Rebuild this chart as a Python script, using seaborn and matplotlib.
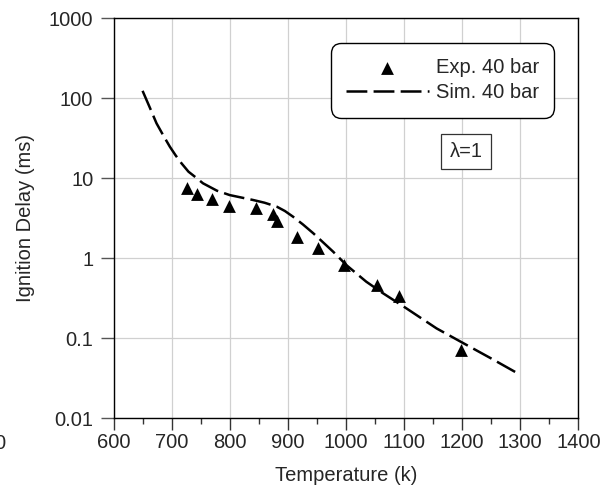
import matplotlib
matplotlib.use("Agg")
import matplotlib.pyplot as plt
from matplotlib.ticker import FixedLocator, FixedFormatter, MultipleLocator, NullLocator
import numpy as np
import pandas as pd
import seaborn as sns

# Experimental ignition delays at 40 bar
exp_temperature = [726, 744, 769, 798, 845, 875, 881, 915, 952, 997, 1053, 1091, 1198]
exp_delay = [7.6, 6.3, 5.5, 4.5, 4.3, 3.6, 2.9, 1.86, 1.36, 0.82, 0.46, 0.34, 0.071]

# Simulated ignition delays at 40 bar
sim_temperature = [650, 662, 674, 686, 697, 707, 717, 729, 742, 754, 778, 800, 820,
                   840, 860, 881, 895, 909, 926, 944, 960, 978, 1001, 1035, 1064,
                   1104, 1156, 1202, 1250, 1300]
sim_delay = [124, 78, 48.7, 34, 24.8, 19.3, 15.4, 12.1, 10.2, 8.66, 7.0, 6.17, 5.75,
             5.36, 4.95, 4.42, 3.9, 3.31, 2.65, 2.05, 1.6, 1.21, 0.82, 0.51, 0.365,
             0.237, 0.133, 0.087, 0.056, 0.035]

x_ticks = [600, 700, 800, 900, 1000, 1100, 1200, 1300, 1400]
y_ticks = [0.01, 0.1, 1, 10, 100, 1000]
y_tick_labels = ["0.01", "0.1", "1", "10", "100", "1000"]

exp_df = pd.DataFrame({"T": exp_temperature, "tau": exp_delay})
sim_df = pd.DataFrame({"T": sim_temperature, "tau": sim_delay})

sns.set_style("ticks")
plt.rcParams["font.family"] = ["Liberation Sans", "DejaVu Sans"]
plt.rcParams["lines.scale_dashes"] = False
FS = 14.5

fig = plt.figure(figsize=(6.08, 4.93), dpi=100)
ax = fig.add_axes([0.1867, 0.1515, 0.7645, 0.8114])

sns.lineplot(data=sim_df, x="T", y="tau", ax=ax, color="black", linewidth=1.8,
             dashes=False, label="Sim. 40 bar", zorder=3)
ax.lines[0].set_dashes((15, 4.5))
sns.scatterplot(data=exp_df, x="T", y="tau", ax=ax, marker="^", s=85,
                color="black", linewidth=0, label="Exp. 40 bar", zorder=4)

ax.set_yscale("log")
ax.set_xlim(600, 1400)
ax.set_ylim(0.01, 1000)

ax.xaxis.set_major_locator(FixedLocator(x_ticks))
ax.xaxis.set_minor_locator(MultipleLocator(50))
ax.yaxis.set_major_locator(FixedLocator(y_ticks))
ax.yaxis.set_major_formatter(FixedFormatter(y_tick_labels))
ax.yaxis.set_minor_locator(NullLocator())

ax.grid(True, which="major", color="#d0d0d0", linewidth=0.9, zorder=0)
ax.set_axisbelow(True)

for side in ["left", "right", "top", "bottom"]:
    ax.spines[side].set_visible(True)
    ax.spines[side].set_color("black")
    ax.spines[side].set_linewidth(1.0)

ax.tick_params(axis="x", which="major", direction="out", length=8.5, width=1.0,
               color="#333333", labelsize=FS, pad=2)
ax.tick_params(axis="x", which="minor", direction="out", length=4.5, width=1.0,
               color="#333333")
ax.tick_params(axis="y", which="major", direction="out", length=9.5, width=1.0,
               color="#555555", labelsize=FS, pad=5)

ax.set_xlabel("Temperature (k)", fontsize=FS)
ax.set_ylabel("Ignition Delay (ms)", fontsize=FS)
ax.xaxis.set_label_coords(0.5, -0.118)
ax.yaxis.set_label_coords(-0.168, 0.5)

handles, labels = ax.get_legend_handles_labels()
order = [labels.index("Exp. 40 bar"), labels.index("Sim. 40 bar")]
leg = ax.legend([handles[i] for i in order], [labels[i] for i in order],
                loc="upper right", bbox_to_anchor=(0.9477, 0.9375),
                borderaxespad=0, fontsize=FS, handlelength=4.1,
                handletextpad=0.35, borderpad=0.75, labelspacing=0.3,
                frameon=True, fancybox=True, framealpha=1, edgecolor="black")
frame = leg.get_frame()
frame.set_boxstyle("round,pad=0,rounding_size=0.5")
frame.set_linewidth(1.0)
frame.set_facecolor("white")

ax.text(0.7584, 0.666, "λ=1", transform=ax.transAxes, fontsize=FS,
        ha="center", va="center",
        bbox=dict(boxstyle="square,pad=0.4", facecolor="white",
                  edgecolor="#333333", linewidth=0.9))

fig.text(5 / 608, 0.1014, "0", fontsize=FS, ha="right", va="center")

fig.savefig("out.png", dpi=100)
